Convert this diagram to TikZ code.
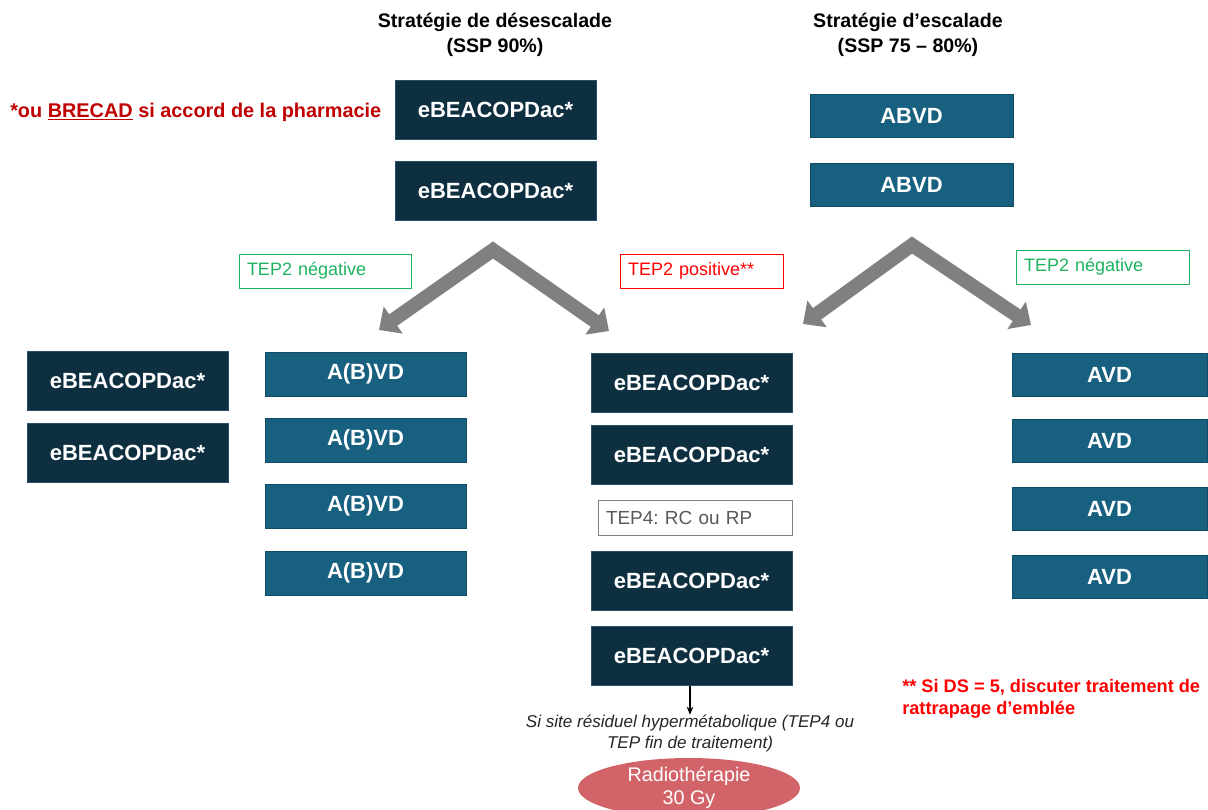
\documentclass[tikz,border=0pt]{standalone}
\usepackage{fontspec}
\setmainfont{Liberation Sans}
\usetikzlibrary{arrows.meta,shapes.geometric}
\definecolor{navy}{HTML}{0E2F40}
\definecolor{navyline}{HTML}{2A5068}
\definecolor{petrol}{HTML}{17607F}
\definecolor{petrolline}{HTML}{114B64}
\definecolor{chevgray}{HTML}{808080}
\definecolor{tepgreen}{HTML}{1DB35F}
\definecolor{tepred}{HTML}{FF0000}
\definecolor{notered}{HTML}{C00000}
\definecolor{radio}{HTML}{D26469}
\frenchspacing
\begin{document}
\begin{tikzpicture}[x=0.75pt,y=-0.75pt]
      \tikzset{darkbox/.style={draw=navyline, fill=navy, line width=0.75pt, text=white, inner sep=0pt,
                font=\fontsize{16.5}{20}\selectfont\bfseries, minimum width=150.75pt, minimum height=44.25pt}}
      \tikzset{bluebox/.style={darkbox, draw=petrolline, fill=petrol, minimum height=33pt}}
      \tikzset{tepbox/.style={draw, line width=0.75pt, font=\fontsize{13.5}{16}\selectfont, align=left,
                inner xsep=6pt, inner ysep=0pt, minimum height=25.5pt}}
      \tikzset{fatarrow/.style={draw=chevgray, line width=10.5pt, line join=miter,
                {Triangle[width=24pt,length=13pt]}-{Triangle[width=24pt,length=13pt]}}}
      \useasboundingbox[fill=white] (0,0) rectangle (1208,810);
%% Titles
      	\node[align=center, font=\fontsize{14.7}{18.75}\selectfont\bfseries] (titleL) at (495,34.5) {Stratégie de désescalade\\(SSP 90\%)};
      	\node[align=center, font=\fontsize{14.7}{18.75}\selectfont\bfseries] (titleR) at (908,34.5) {Stratégie d’escalade\\(SSP 75 – 80\%)};
      	\node[anchor=west, inner sep=0pt, text=notered, font=\fontsize{14.9}{18}\selectfont\bfseries] (brecad) at (10,112) {*ou \underline{BRECAD} si accord de la pharmacie};
%% Induction
      	\node[darkbox] (top1) at (495.5,110) {eBEACOPDac*};
      	\node[darkbox] (top2) at (495.5,190.5) {eBEACOPDac*};
      	\node[bluebox, minimum width=152.25pt, minimum height=32.25pt] (abvd1) at (911.5,115.5) {ABVD};
      	\node[bluebox, minimum width=152.25pt, minimum height=32.25pt] (abvd2) at (911.5,184.5) {ABVD};
%% TEP2
      	\node[tepbox, draw=tepgreen, text=tepgreen, text width=117pt] (tepnegL) at (325,271) {TEP2 négative};
      	\node[tepbox, draw=tepred, text=tepred, text width=110.25pt] (tepposC) at (701.5,271) {TEP2 positive**};
      	\node[tepbox, draw=tepgreen, text=tepgreen, text width=117.75pt] (tepnegR) at (1102.5,267) {TEP2 négative};
      	\coordinate (apexL) at (493,250);
      	\coordinate (apexR) at (912,245);
      	\coordinate (tipL1) at (379,330);
      	\coordinate (tipL2) at (609,331);
      	\coordinate (tipR1) at (803,324);
      	\coordinate (tipR2) at (1031,325);
		\draw[fatarrow] (tipL1) -- (apexL) -- (tipL2);
		\draw[fatarrow] (tipR1) -- (apexR) -- (tipR2);
%% Suite desescalade
      	\node[darkbox] (left1) at (127.5,381) {eBEACOPDac*};
      	\node[darkbox] (left2) at (127.5,453) {eBEACOPDac*};
      	\node[bluebox] (abv1) at (365.5,374) {A(B)VD};
      	\node[bluebox] (abv2) at (365.5,440) {A(B)VD};
      	\node[bluebox] (abv3) at (365.5,506) {A(B)VD};
      	\node[bluebox] (abv4) at (365.5,573) {A(B)VD};
%% Escalade
      	\node[darkbox] (mid1) at (691.5,382.5) {eBEACOPDac*};
      	\node[darkbox] (mid2) at (691.5,454.5) {eBEACOPDac*};
      	\node[tepbox, draw=chevgray, text=black!65, font=\fontsize{14.2}{17}\selectfont, text width=133.5pt, minimum height=26.25pt] (tep4) at (695,518) {TEP4: RC ou RP};
      	\node[darkbox] (mid3) at (691.5,580.5) {eBEACOPDac*};
      	\node[darkbox] (mid4) at (691.5,656) {eBEACOPDac*};
      	\node[align=center, inner sep=0pt, text=black!85, font=\fontsize{12.8}{15.75}\selectfont\itshape] (siteNote) at (690,733.5) {Si site résiduel hypermétabolique (TEP4 ou\\TEP fin de traitement)};
      	\node[ellipse, fill=radio, text=white, inner sep=0pt, minimum width=166.5pt, minimum height=45pt, align=center,
      	      font=\fontsize{14.8}{17.25}\selectfont] (radio) at (689,788) {Radiothérapie\\30 Gy};
		\draw[-{Stealth[length=6pt,width=5pt]}, thick] (siteNote.north |- mid4.south) -- (siteNote.north);
%% Suite escalade
      	\node[bluebox, minimum width=146.25pt, minimum height=32.25pt] (avd1) at (1109.5,374.5) {AVD};
      	\node[bluebox, minimum width=146.25pt, minimum height=32.25pt] (avd2) at (1109.5,440.5) {AVD};
      	\node[bluebox, minimum width=146.25pt, minimum height=32.25pt] (avd3) at (1109.5,508.5) {AVD};
      	\node[bluebox, minimum width=146.25pt, minimum height=32.25pt] (avd4) at (1109.5,576.5) {AVD};
%Note
      	\node[anchor=west, align=left, inner sep=0pt, text=tepred, font=\fontsize{13.65}{16.5}\selectfont\bfseries] (dsNote) at (902,699) {** Si DS = 5, discuter traitement de\\rattrapage d’emblée};
	\end{tikzpicture}
\end{document}
